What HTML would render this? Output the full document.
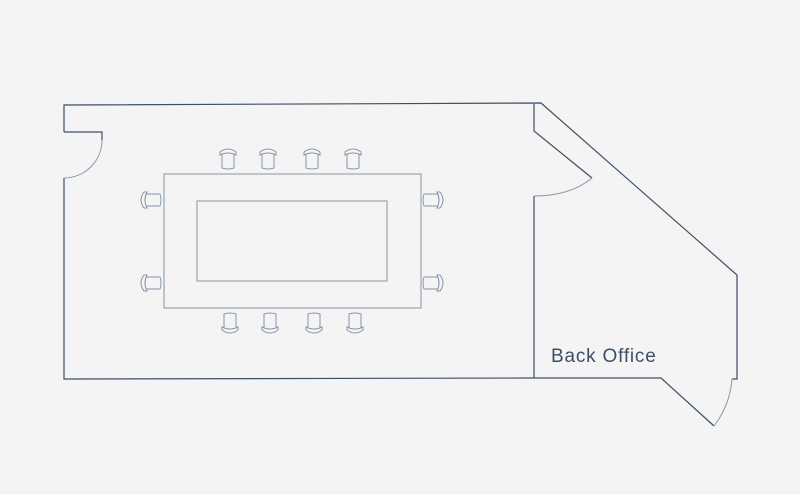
<!DOCTYPE html>
<html><head><style>body{margin:0;background:#f4f4f4}svg{display:block}</style></head><body>
<svg width="800" height="494" viewBox="0 0 800 494" xmlns="http://www.w3.org/2000/svg">
<defs>
<g id="ct" fill="none" stroke="#8895a8" stroke-width="1"><path d="M-8 2 Q0 -4 8 2 L8 5 Q0 1 -8 5 Z"/><path d="M-6 4 L-6 18 Q0 20 6 18 L6 4"/></g>
</defs>
<rect width="800" height="494" fill="#f4f4f4"/>
<g fill="none" stroke="#3d4f66" stroke-width="1.2">
<path d="M64 132 L64 105 L541 103 L737 275 L737 379 L732 379"/>
<path d="M64 132 L102 132 L102 140"/>
<path d="M64 178 L64 379 L534 378 L661 378 L714 426"/>
<path d="M534 104 L534 131 L592 178"/>
<path d="M534 196 L534 378"/>
</g>
<g fill="none" stroke="#8895a8" stroke-width="1">
<path d="M102 140 A38 38 0 0 1 64 178"/>
<path d="M592 178 Q570 196 534 196"/>
<path d="M714 426 Q730 405 732 379"/>
<rect x="164" y="174" width="257" height="134"/>
<rect x="197" y="201" width="190" height="80"/>
</g>
<use href="#ct" x="228" y="150"/><use href="#ct" x="268" y="150"/><use href="#ct" x="312" y="150"/><use href="#ct" x="353" y="150"/>
<g transform="translate(0,482) scale(1,-1)">
<use href="#ct" x="230" y="150"/><use href="#ct" x="270" y="150"/><use href="#ct" x="314" y="150"/><use href="#ct" x="355" y="150"/>
</g>
<g transform="translate(151,200) rotate(-90)"><use href="#ct" x="0" y="-9"/></g>
<g transform="translate(151,283) rotate(-90)"><use href="#ct" x="0" y="-9"/></g>
<g transform="translate(433,200) rotate(90)"><use href="#ct" x="0" y="-9"/></g>
<g transform="translate(433,283) rotate(90)"><use href="#ct" x="0" y="-9"/></g>
<text x="551" y="362" font-family="Liberation Sans, sans-serif" font-size="19" letter-spacing="0.8" fill="#3d4f66">Back Office</text>
</svg>
</body></html>
